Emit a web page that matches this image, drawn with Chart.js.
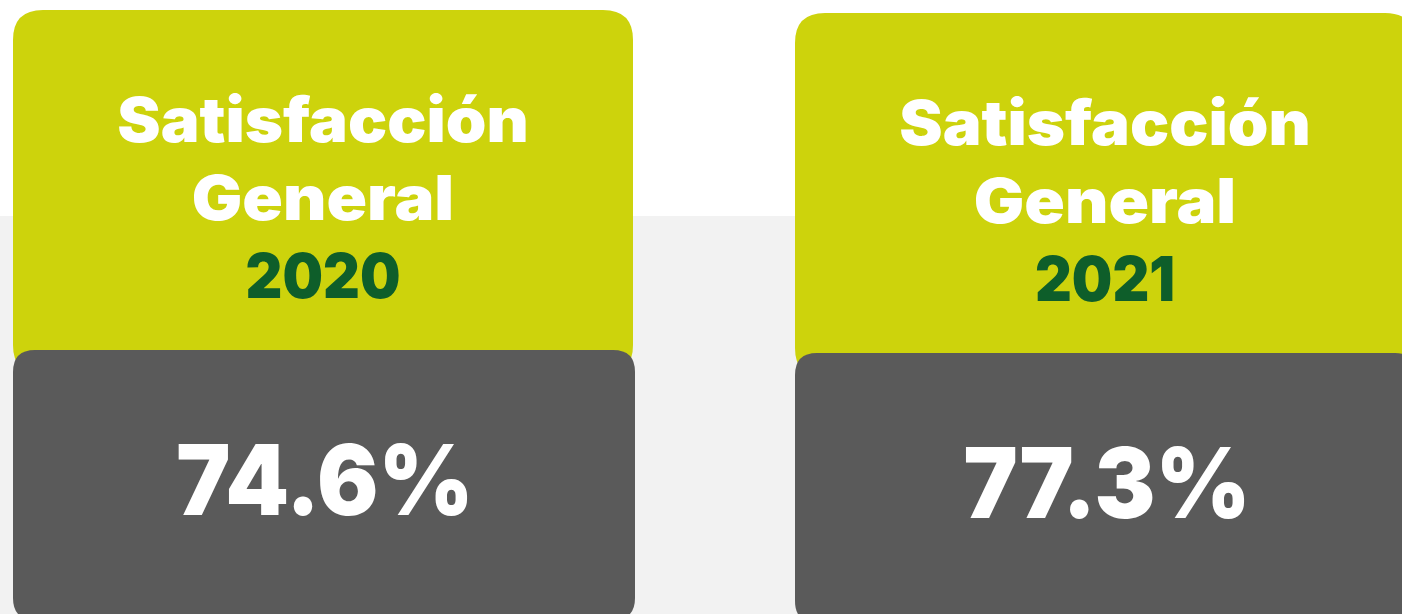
<!DOCTYPE html>
<html>
<head>
<meta charset="utf-8">
<script src="https://cdn.jsdelivr.net/npm/chart.js@4"></script>
<style>
  html, body { margin: 0; padding: 0; background: #ffffff; }
  #wrap { width: 1402px; height: 614px; position: relative; }
</style>
</head>
<body>
<div id="wrap"><canvas id="satisfaccionChart"></canvas></div>
<script>
    // data
    const years = ['2020', '2021'];
    const satisfaction = [74.6, 77.3];
    const titleLines = ['Satisfacción', 'General'];

    const GREEN = '#cdd30c';
    const DARK_GREEN = '#0e5e2a';
    const GREY = '#5a5a5a';
    const FONT = 'Inter, "Open Sans", sans-serif';

    function roundRect(ctx, x, y, w, h, r) {
        ctx.beginPath();
        ctx.moveTo(x + r, y);
        ctx.lineTo(x + w - r, y);
        ctx.quadraticCurveTo(x + w, y, x + w, y + r);
        ctx.lineTo(x + w, y + h - r);
        ctx.quadraticCurveTo(x + w, y + h, x + w - r, y + h);
        ctx.lineTo(x + r, y + h);
        ctx.quadraticCurveTo(x, y + h, x, y + h - r);
        ctx.lineTo(x, y + r);
        ctx.quadraticCurveTo(x, y, x + r, y);
        ctx.closePath();
    }

    // poppins-like wide text: stretch horizontally around the centre
    function stretchedText(ctx, text, cx, baseline, sx) {
        ctx.save();
        ctx.translate(cx, baseline);
        ctx.scale(sx, 1);
        ctx.fillText(text, 0, 0);
        ctx.restore();
    }

    // draws the background and the two cards, placed by the category scale
    const cardPlugin = {
        id: 'cards',
        beforeDraw(chart) {
            const ctx = chart.ctx;
            ctx.save();
            ctx.fillStyle = '#ffffff';
            ctx.fillRect(0, 0, chart.width, chart.height);
            ctx.fillStyle = '#f2f2f2';
            ctx.fillRect(0, 216, chart.width, chart.height - 216);
            ctx.restore();
        },
        afterDraw(chart) {
            const ctx = chart.ctx;
            const xScale = chart.scales.x;
            const cardW = 620;
            const dy = [0, 3];

            years.forEach((year, i) => {
                const cx = xScale.getPixelForValue(i);
                const left = cx - cardW / 2;
                const off = dy[i];

                ctx.save();
                ctx.fillStyle = GREEN;
                roundRect(ctx, left, 10 + off, cardW, 365, 30);
                ctx.fill();

                ctx.fillStyle = GREY;
                roundRect(ctx, left, 350 + off, cardW + 2, 270, 22);
                ctx.fill();

                ctx.textAlign = 'center';
                ctx.textBaseline = 'alphabetic';
                ctx.fillStyle = '#ffffff';
                ctx.font = '900 62px ' + FONT;
                stretchedText(ctx, titleLines[0], cx, 142 + off, 1.05);
                stretchedText(ctx, titleLines[1], cx, 220 + off, 1.08);
                ctx.fillStyle = DARK_GREEN;
                stretchedText(ctx, year, cx, 298 + off, 0.92);

                ctx.fillStyle = '#ffffff';
                ctx.font = '900 98px ' + FONT;
                stretchedText(ctx, satisfaction[i].toFixed(1) + '%', cx + 2, 515 + off, 0.93);
                ctx.restore();
            });
        }
    };

    const ctx = document.getElementById('satisfaccionChart').getContext('2d');
    new Chart(ctx, {
        type: 'bar',
        data: {
            labels: years,
            datasets: [{
                label: 'Satisfacción General',
                data: satisfaction,
                backgroundColor: 'rgba(0,0,0,0)'
            }]
        },
        options: {
            responsive: true,
            maintainAspectRatio: false,
            animation: false,
            layout: {
                padding: { left: 323, right: 297, top: 0, bottom: 0 }
            },
            plugins: {
                legend: { display: false },
                tooltip: { enabled: false }
            },
            scales: {
                x: { display: false, offset: false },
                y: { display: false, beginAtZero: true, max: 100 }
            }
        },
        plugins: [cardPlugin]
    });
</script>
</body>
</html>
